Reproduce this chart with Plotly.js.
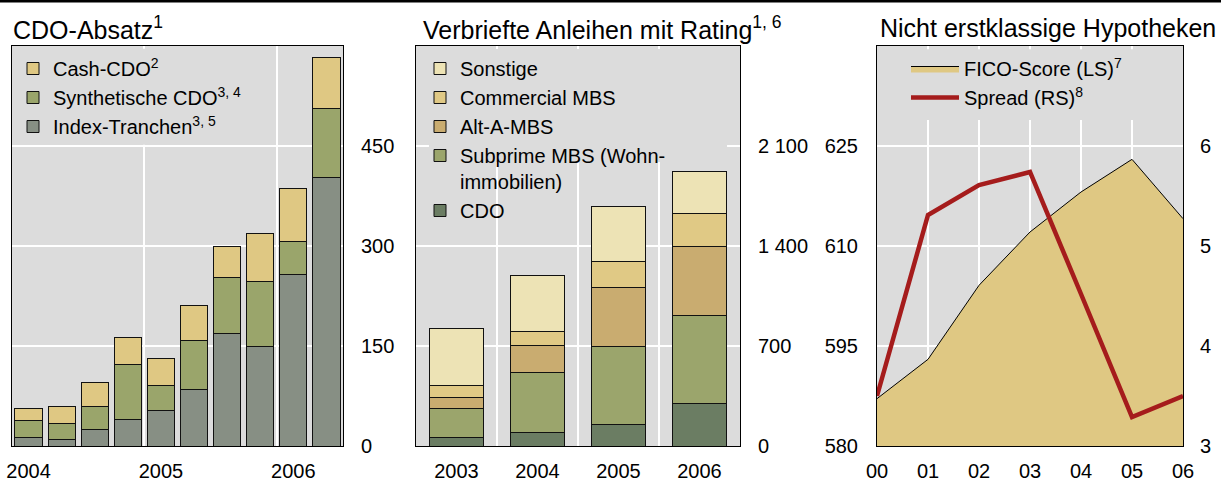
<!DOCTYPE html>
<html><head><meta charset="utf-8">
<script src="https://cdn.plot.ly/plotly-3.0.1.min.js"></script>
<style>html,body{margin:0;padding:0;background:#fff}</style>
</head><body><div id="chart" style="width:1221px;height:481px"></div>
<script>
// Panel 1: CDO-Absatz (quarterly, bn USD)
const quarters = ['2004 Q1','2004 Q2','2004 Q3','2004 Q4','2005 Q1','2005 Q2','2005 Q3','2005 Q4','2006 Q1','2006 Q2'];
const cashCDO       = [19, 26, 36, 39.5, 41, 51.5, 45.5, 71, 78.5, 77];
const syntheticCDO  = [25.5, 24, 35, 83, 38, 74, 84.5, 98.5, 50.5, 103.5];
const indexTranches = [12.5, 10, 25, 40, 53, 85, 169, 149, 257, 402.5];
const p1Ticks = [0, 150, 300, 450];

// Panel 2: Verbriefte Anleihen mit Rating
const years2   = ['2003', '2004', '2005', '2006'];
const cdo2     = [63, 93, 152, 296];
const subprime = [198, 420, 543, 619];
const altA     = [82, 192, 416, 480];
const cmbs     = [82, 98, 179, 231];
const other    = [399, 394, 385, 294];
const p2Ticks  = [0, 700, 1400, 2100];
const p2TickText = ['0', '700', '1 400', '2 100'];

// Panel 3: Nicht erstklassige Hypotheken
const years3 = ['00', '01', '02', '03', '04', '05', '06'];
const fico   = [587.1, 593, 604.1, 612.1, 618.1, 623, 614.1];
const spread = [3.5, 5.31, 5.61, 5.74, 4.52, 3.29, 3.5];
const p3LeftTicks  = [580, 595, 610, 625];
const p3RightTicks = [3, 4, 5, 6];

const FONT = 'Liberation Sans, Arial, sans-serif';
const W = 1221, H = 481;
const idx = a => a.map((_, i) => i);
const qx = idx(quarters), yx = idx(years2), x3 = idx(years3);
const q1 = qx.filter(i => quarters[i].endsWith('Q1'));
const yearBounds = q1.filter(i => i > 0).map(i => i - 0.5);

const barLine = {color: '#111', width: 1};
const traces = [
  {type:'bar', x:qx, y:indexTranches, name:'Index-Tranchen<sup>3, 5</sup>', marker:{color:'#878F84', line:barLine}, xaxis:'x', yaxis:'y', legend:'legend', width:0.82},
  {type:'bar', x:qx, y:syntheticCDO, name:'Synthetische CDO<sup>3, 4</sup>', marker:{color:'#9AA56B', line:barLine}, xaxis:'x', yaxis:'y', legend:'legend', width:0.82},
  {type:'bar', x:qx, y:cashCDO, name:'Cash-CDO<sup>2</sup>', marker:{color:'#DFC883', line:barLine}, xaxis:'x', yaxis:'y', legend:'legend', width:0.82},

  {type:'bar', x:yx, y:cdo2, name:'CDO', marker:{color:'#6B7D63', line:barLine}, xaxis:'x2', yaxis:'y2', legend:'legend2', width:0.67},
  {type:'bar', x:yx, y:subprime, name:'Subprime MBS (Wohn-<br>immobilien)', marker:{color:'#9BA56C', line:barLine}, xaxis:'x2', yaxis:'y2', legend:'legend2', width:0.67},
  {type:'bar', x:yx, y:altA, name:'Alt-A-MBS', marker:{color:'#C9AC70', line:barLine}, xaxis:'x2', yaxis:'y2', legend:'legend2', width:0.67},
  {type:'bar', x:yx, y:cmbs, name:'Commercial MBS', marker:{color:'#E0C985', line:barLine}, xaxis:'x2', yaxis:'y2', legend:'legend2', width:0.67},
  {type:'bar', x:yx, y:other, name:'Sonstige', marker:{color:'#EDE3B5', line:barLine}, xaxis:'x2', yaxis:'y2', legend:'legend2', width:0.67},

  {type:'scatter', mode:'lines', x:x3, y:fico, name:'FICO-Score (LS)<sup>7</sup>', fill:'tozeroy', fillcolor:'#DFC883', line:{color:'#000', width:1}, xaxis:'x3', yaxis:'y3', legend:'legend3'},
  {type:'scatter', mode:'lines', x:x3, y:spread, name:'Spread (RS)<sup>8</sup>', line:{color:'#A51C1C', width:4.5}, xaxis:'x3', yaxis:'y4', legend:'legend3'}
];

const yDom = [35/H, 435/H];
const common = {showline:true, mirror:true, linecolor:'#000', linewidth:1, zeroline:false, ticks:'', tickfont:{size:20, color:'#000'}, fixedrange:true};
const grid = {gridcolor:'#fff', gridwidth:2};

const legendBase = {xanchor:'left', yanchor:'top', bgcolor:'rgba(0,0,0,0)', borderwidth:0, font:{size:20, color:'#000', family:FONT}, tracegroupgap:0};

const cover = '#DCDCDC';
const layout = {
  width: W, height: H,
  margin: {l:0, r:0, t:0, b:0},
  paper_bgcolor: '#fff', plot_bgcolor: '#DCDCDC',
  font: {family: FONT, color: '#000', size: 20},
  barmode: 'stack', bargap: 0,
  showlegend: true,
  xaxis: Object.assign({}, common, {domain:[12/W, 343/W], anchor:'y', range:[-0.5, quarters.length-0.5], tickvals:q1, ticktext:q1.map(i => quarters[i].slice(0,4)), showgrid:false, ticklabelstandoff:7,
    minor:{tickmode:'array', tickvals:yearBounds, showgrid:true, gridcolor:'#fff', gridwidth:2, ticks:''}}),
  yaxis: Object.assign({}, common, grid, {domain:yDom, anchor:'x', side:'right', range:[0, 600], tickvals:p1Ticks, showgrid:true, ticklabelstandoff:13}),
  xaxis2: Object.assign({}, common, {domain:[416/W, 740/W], anchor:'y2', range:[-0.5, years2.length-0.5], tickvals:yx, ticktext:years2, showgrid:false, ticklabelstandoff:7,
    minor:{tickmode:'array', tickvals:yx.slice(1).map(i => i - 0.5), showgrid:true, gridcolor:'#fff', gridwidth:2, ticks:''}}),
  yaxis2: Object.assign({}, common, grid, {domain:yDom, anchor:'x2', side:'right', range:[0, 2800], tickvals:p2Ticks, ticktext:p2TickText, showgrid:true, ticklabelstandoff:13}),
  xaxis3: Object.assign({}, common, grid, {domain:[877/W, 1183/W], anchor:'y3', range:[0, years3.length-1], tickvals:x3, ticktext:years3, showgrid:true, ticklabelstandoff:7}),
  yaxis3: Object.assign({}, common, grid, {domain:yDom, anchor:'x3', side:'left', range:[580, 640], tickvals:p3LeftTicks, showgrid:true, ticklabelstandoff:14}),
  yaxis4: Object.assign({}, common, {domain:yDom, anchor:'x3', overlaying:'y3', side:'right', range:[3, 7], tickvals:p3RightTicks, showgrid:false, ticklabelstandoff:12}),
  legend:  Object.assign({}, legendBase, {x:13/W, y:1-49/H, traceorder:'reversed'}),
  legend2: Object.assign({}, legendBase, {x:420/W, y:1-49/H, traceorder:'reversed', valign:'top'}),
  legend3: Object.assign({}, legendBase, {x:906/W, y:1-49/H, traceorder:'normal', itemwidth:48}),
  shapes: [
    {type:'rect', xref:'paper', yref:'paper', x0:0, x1:1, y0:1-2.5/H, y1:1, fillcolor:'#000', line:{width:0}, layer:'above'},
    // background panels behind the legends (hide gridlines, stay under the marks)
    {type:'rect', xref:'x', yref:'y', x0:-0.4, x1:7.0, y0:452, y1:596, fillcolor:cover, line:{width:0}, layer:'between'},
    {type:'rect', xref:'x2', yref:'y2', x0:-0.34, x1:3.34, y0:1988, y1:2779, fillcolor:cover, line:{width:0}, layer:'between'},
    {type:'rect', xref:'x3', yref:'y3', x0:0.06, x1:5.94, y0:628.9, y1:639.5, fillcolor:cover, line:{width:0}, layer:'between'}
  ],
  annotations: [
    {text:'CDO-Absatz<sup>1</sup>', xref:'paper', yref:'paper', x:11/W, y:1-28/H, xanchor:'left', yanchor:'middle', showarrow:false, font:{size:25, color:'#000'}},
    {text:'Verbriefte Anleihen mit Rating<sup>1, 6</sup>', xref:'paper', yref:'paper', x:421/W, y:1-28/H, xanchor:'left', yanchor:'middle', showarrow:false, font:{size:25, color:'#000'}},
    {text:'Nicht erstklassige Hypotheken', xref:'paper', yref:'paper', x:878/W, y:1-28/H, xanchor:'left', yanchor:'middle', showarrow:false, font:{size:25, color:'#000'}}
  ]
};

Plotly.newPlot('chart', traces, layout, {staticPlot:true, displayModeBar:false});
</script>
</body></html>
